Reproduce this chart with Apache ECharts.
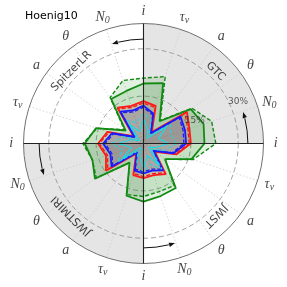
<!DOCTYPE html>
<html><head><meta charset="utf-8">
<script src="https://cdn.jsdelivr.net/npm/echarts@6/dist/echarts.min.js"></script>
<style>html,body{margin:0;padding:0;background:#fff}#c{width:287px;height:287px}</style>
</head><body><div id="c"></div>
<script>
// spokes (degrees, counter-clockwise from the right) and their parameter labels
const spokeAngles = [0,18,36,54,72,90,108,126,144,162,180,198,216,234,252,270,288,306,324,342];
const spokeLabels = ['i','N0','θ','a','τν','i','N0','θ','a','τν','i','N0','θ','a','τν','i','N0','θ','a','τν'];
const instruments = ['GTC','SpitzerLR','JWSTMIRI','JWST'];
const instrumentAngles = [45,135,225,315];
const radialTicks = [15,30];
const radialMax = 38;
// relative errors (%) per spoke
const greenSolid  = [19.3,20.0,18.5,8.7,20.1,19.0,17.5,17.4,7.0,15.8,18.6,17.0,19.0,7.5,17.4,18.4,17.5,17.4,8.4,16.0];
const greenDashed = [22.9,22.7,19.0,9.0,22.3,20.7,21.0,18.0,7.5,15.5,19.2,17.0,18.5,7.5,17.0,16.8,16.0,16.5,8.5,16.5];
const redSolid    = [15.0,15.3,17.0,4.5,12.5,13.4,12.5,14.0,4.0,12.0,14.4,12.5,14.7,4.0,10.5,11.0,10.5,12.0,4.5,11.0];
const redDashed   = [14.5,14.8,16.2,4.2,12.0,12.8,12.0,13.5,3.8,11.5,14.0,12.0,14.0,3.8,10.0,10.5,10.0,11.5,4.2,10.5];
const blueSolid   = [13.5,13.8,14.5,4.0,10.0,12.0,11.0,12.5,3.5,10.5,12.8,11.0,12.5,3.5,9.0,9.5,9.0,10.5,4.0,10.0];
const blueDashed  = [12.8,13.2,14.0,3.8,9.5,11.5,10.5,12.0,3.3,10.0,12.2,10.5,12.0,3.3,8.5,9.0,8.5,10.0,3.8,9.5];
const cyanSolid   = [8.0,5.0,9.0,2.0,4.5,8.0,4.0,7.5,1.5,4.0,8.0,4.0,8.5,1.5,4.0,8.0,4.0,8.5,2.0,4.0];
const cyanDashed  = [10.5,9.0,10.5,3.0,8.0,9.5,7.0,9.0,2.5,7.0,10.0,7.0,10.0,3.0,7.0,9.0,7.0,10.0,3.0,7.0];

function closed(vals){
  const d = vals.map((v,i)=>[v, spokeAngles[i]]);
  d.push([vals[0], spokeAngles[0]]);
  return d;
}
function polySeries(vals, color, dashed, width, fill, z){
  return {type:'line', coordinateSystem:'polar', data:closed(vals), symbol:'none', silent:true, z:z,
    lineStyle:{color:color, width:width, type: dashed?[4,2]:'solid'},
    areaStyle: fill?{color:fill, origin:'start'}:undefined, animation:false};
}
function richLabel(l){
  if (l==='N0') return '{m|N}{s|0}';
  if (l==='τν') return '{m|τ}{s|ν}';
  return '{m|'+l+'}';
}

const chart = echarts.init(document.getElementById('c'), null, {renderer:'canvas'});
const serif = 'Liberation Serif';
chart.setOption({
  animation:false,
  title:{text:'Hoenig10', left:20, top:6, textStyle:{fontFamily:'DejaVu Sans', fontSize:11, fontWeight:'normal', color:'#000'}},
  polar:{center:['50%','50%'], radius:120},
  angleAxis:{type:'value', min:0, max:360, interval:18, startAngle:0, clockwise:false,
    axisLine:{lineStyle:{color:'#707070', width:1}},
    axisTick:{show:false},
    splitLine:{show:true, lineStyle:{color:'#cccccc', width:0.8, type:[1.5,2]}},
    axisLabel:{show:false}
  },
  radiusAxis:{type:'value', min:0, max:radialMax, interval:15,
    axisLine:{show:false}, axisTick:{show:false}, axisLabel:{show:false},
    splitLine:{show:true, lineStyle:{color:['rgba(0,0,0,0)','#8c8c8c','#8c8c8c','rgba(0,0,0,0)'], width:0.8, type:[5,3]}}
  },
  series:[
    {type:'custom', coordinateSystem:'polar', z:-5, silent:true, data:[[0,0],[0,180]],
     renderItem:function(params, api){
       const cs = params.coordSys; const a = api.value(1);
       return {type:'sector', shape:{cx:cs.cx, cy:cs.cy, r0:0, r:cs.r, startAngle:-(a+90)*Math.PI/180, endAngle:-a*Math.PI/180, clockwise:true},
         style:{fill:'#e5e5e5'}};
     }},
    polySeries(greenDashed,'#138a13',true,1.4,'rgba(0,128,0,0.17)',3),
    polySeries(greenSolid,'#138a13',false,1.8,'rgba(0,128,0,0.18)',4),
    polySeries(redDashed,'#ff1a1a',true,1.3,null,5),
    polySeries(redSolid,'#ff1a1a',false,1.8,'rgba(190,20,20,0.22)',6),
    polySeries(blueDashed,'#1a1aff',true,1.3,null,7),
    polySeries(blueSolid,'#1a1aff',false,1.8,'rgba(50,40,140,0.25)',8),
    polySeries(cyanDashed,'#19dbe6',true,1.0,null,9),
    polySeries(cyanSolid,'#19dbe6',false,1.1,null,10),
    {type:'custom', coordinateSystem:'polar', z:12, silent:true, data:[[0,0],[0,90],[0,180],[0,270]],
     renderItem:function(params, api){
       const cs = params.coordSys; const a = api.value(1);
       const c0 = api.coord([0,0]);
       const pOut = api.coord([radialMax, a]);
       const rr = cs.r*0.87; const a2 = a+17;
       const t = a2*Math.PI/180;
       const ex = cs.cx + rr*Math.cos(t), ey = cs.cy - rr*Math.sin(t);
       const dx = -Math.sin(t), dy = -Math.cos(t);
       const nx = Math.cos(t), ny = -Math.sin(t);
       const L=5, W=2.2;
       return {type:'group', children:[
         {type:'line', shape:{x1:c0[0], y1:c0[1], x2:pOut[0], y2:pOut[1]}, style:{stroke:'#222', lineWidth:1.1}},
         {type:'arc', shape:{cx:cs.cx, cy:cs.cy, r:rr, startAngle:-a*Math.PI/180, endAngle:-(a2-3)*Math.PI/180, clockwise:false}, style:{stroke:'#111', lineWidth:1, fill:null}},
         {type:'polygon', shape:{points:[[ex+dx*1,ey+dy*1],[ex-dx*L+nx*W, ey-dy*L+ny*W],[ex-dx*L-nx*W, ey-dy*L-ny*W]]}, style:{fill:'#111'}}
       ]};
     }},
    {type:'scatter', coordinateSystem:'polar', symbolSize:0, silent:true, z:13, clip:false,
     data: spokeAngles.map((a,i)=>({value:[41.9, a], name:spokeLabels[i]})),
     label:{show:true, position:'inside', formatter:function(p){return richLabel(p.name);},
      rich:{m:{fontFamily:serif, fontStyle:'italic', fontSize:14, color:'#111', lineHeight:16},
            s:{fontFamily:serif, fontStyle:'italic', fontSize:10, color:'#111', verticalAlign:'bottom', lineHeight:16, padding:[6,0,0,0]}}}},
    {type:'scatter', coordinateSystem:'polar', symbolSize:0, silent:true, z:13,
     data: instruments.map((n,i)=>({value:[32.3, instrumentAngles[i]], name:n,
        label:{rotate: instrumentAngles[i]-90 > 90 ? instrumentAngles[i]-90-360 : instrumentAngles[i]-90}})),
     label:{show:true, position:'inside', formatter:'{b}', fontFamily:'DejaVu Sans', fontSize:11, color:'#111'}},
    {type:'scatter', coordinateSystem:'polar', symbolSize:0, silent:true, z:13,
     data: radialTicks.map(v=>({value:[v+2.8, 24], name:v+'%'})),
     label:{show:true, position:'inside', formatter:'{b}', fontFamily:'DejaVu Sans', fontSize:9, color:'#333'}}
  ]
});
</script></body></html>
